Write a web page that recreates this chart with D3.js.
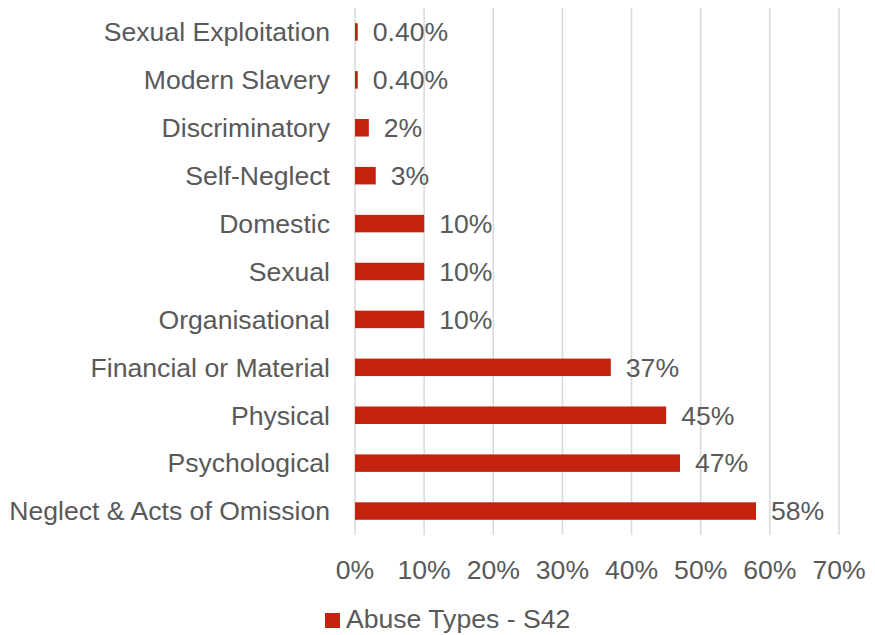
<!DOCTYPE html>
<html>
<head>
<meta charset="utf-8">
<script src="https://cdn.jsdelivr.net/npm/d3@7"></script>
<style>
  html, body { margin: 0; padding: 0; background: #ffffff; }
  svg { display: block; }
  text { font-family: "Liberation Sans", Arial, sans-serif; fill: #595959; }
</style>
</head>
<body>
<svg id="chart" width="875" height="635"></svg>
<script>
const categories = [
  "Sexual Exploitation",
  "Modern Slavery",
  "Discriminatory",
  "Self-Neglect",
  "Domestic",
  "Sexual",
  "Organisational",
  "Financial or Material",
  "Physical",
  "Psychological",
  "Neglect & Acts of Omission"
];
const values = [0.004, 0.004, 0.02, 0.03, 0.10, 0.10, 0.10, 0.37, 0.45, 0.47, 0.58];
const valueLabels = ["0.40%", "0.40%", "2%", "3%", "10%", "10%", "10%", "37%", "45%", "47%", "58%"];
const xTicks = [0, 0.1, 0.2, 0.3, 0.4, 0.5, 0.6, 0.7];
const seriesName = "Abuse Types - S42";

const barColor = "#C4210F";
const fs = 26.6;
const svg = d3.select("#chart");

const x = d3.scaleLinear().domain([0, 0.7]).range([355, 839]);
const y = d3.scaleBand().domain(categories).range([8, 535]).paddingInner(0.635).paddingOuter(0.3175);

// gridlines
svg.append("g").selectAll("line").data(xTicks).join("line")
  .attr("x1", d => x(d)).attr("x2", d => x(d))
  .attr("y1", 8).attr("y2", 535)
  .attr("stroke", "#d9d9d9").attr("stroke-width", 1.5);

// x tick labels
svg.append("g").selectAll("text").data(xTicks).join("text")
  .attr("x", d => x(d)).attr("y", 579)
  .attr("text-anchor", "middle")
  .attr("font-size", fs)
  .text(d => d3.format(".0%")(d));

// bars
const data = categories.map((c, i) => ({c, v: values[i], label: valueLabels[i]}));
svg.append("g").selectAll("rect").data(data).join("rect")
  .attr("x", x(0))
  .attr("y", d => y(d.c))
  .attr("width", d => x(d.v) - x(0))
  .attr("height", y.bandwidth())
  .attr("fill", barColor);

// value labels
svg.append("g").selectAll("text").data(data).join("text")
  .attr("x", d => x(d.v) + 15)
  .attr("y", d => y(d.c) + y.bandwidth() / 2)
  .attr("dy", "0.35em")
  .attr("font-size", fs)
  .text(d => d.label);

// category labels
svg.append("g").selectAll("text").data(categories).join("text")
  .attr("x", 330)
  .attr("y", d => y(d) + y.bandwidth() / 2)
  .attr("dy", "0.35em")
  .attr("text-anchor", "end")
  .attr("font-size", fs)
  .text(d => d);

// legend
const legend = svg.append("g");
legend.append("rect")
  .attr("x", 325).attr("y", 613).attr("width", 15).attr("height", 15)
  .attr("fill", barColor);
legend.append("text")
  .attr("x", 346).attr("y", 628)
  .attr("font-size", fs)
  .text(seriesName);
</script>
</body>
</html>
